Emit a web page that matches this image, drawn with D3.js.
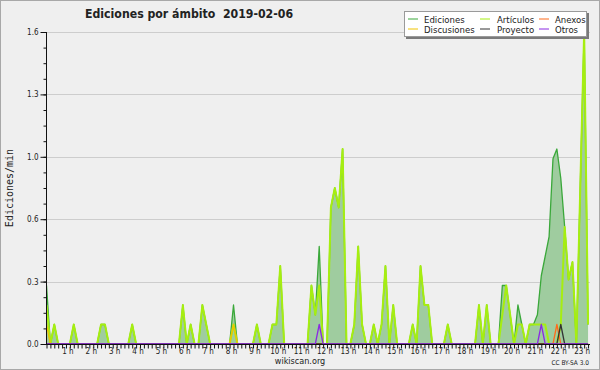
<!DOCTYPE html>
<html>
<head>
<meta charset="utf-8">
<script src="https://cdn.jsdelivr.net/npm/d3@7"></script>
<style>
  body { margin: 0; background: #fff; }
  svg { display: block; }
  text { font-family: 'DejaVu Sans Condensed', 'DejaVu Sans', sans-serif; font-stretch: condensed; fill: #222; }
</style>
</head>
<body>
<svg width="600" height="370"></svg>
<script>
// edits per minute, one value every 10 minutes from 00:00
const binMinutes = 10;
const ediciones = [
  0.3,0,0.1,0,0,0, 0,0.1,0,0,0,0,
  0,0,0.1,0.1,0,0, 0,0,0,0,0.1,0,
  0,0,0,0,0,0, 0,0,0,0,0,0.2,
  0,0.1,0,0,0.2,0.1, 0,0,0,0,0,0,
  0.2,0,0,0,0,0, 0.1,0,0,0,0.1,0.1,
  0.4,0,0,0,0,0, 0,0,0.3,0.15,0.5,0,
  0,0.7,0.8,0.7,1.0,0, 0,0.1,0.5,0.1,0,0,
  0.1,0,0.1,0.4,0,0.2, 0,0,0,0,0.1,0,
  0.4,0.2,0.2,0,0,0, 0,0.1,0,0,0,0,
  0,0,0,0.2,0,0.2, 0,0,0,0.3,0.3,0.15,
  0,0.2,0.1,0,0.1,0.1, 0.15,0.35,0.45,0.55,0.95,1.0,
  0.85,0.6,0.33,0.42,0,0.8, 1.6,0.1
];
const articulos = [
  0.2,0,0.1,0,0,0, 0,0.1,0,0,0,0,
  0,0,0.1,0.1,0,0, 0,0,0,0,0.1,0,
  0,0,0,0,0,0, 0,0,0,0,0,0.2,
  0,0.1,0,0,0.2,0.1, 0,0,0,0,0,0,
  0.1,0,0,0,0,0, 0.1,0,0,0,0.1,0.1,
  0.4,0,0,0,0,0, 0,0,0.3,0.15,0.3,0,
  0,0.7,0.8,0.7,1.0,0, 0,0.1,0.5,0.1,0,0,
  0.1,0,0.1,0.4,0,0.2, 0,0,0,0,0.1,0,
  0.4,0.2,0.2,0,0,0, 0,0.1,0,0,0,0,
  0,0,0,0.2,0,0.2, 0,0,0,0.15,0.3,0.15,
  0,0.1,0.1,0,0.1,0.1, 0.1,0.1,0.1,0,0,0,
  0.1,0.6,0.33,0.42,0,0.8, 1.6,0.1
];
const discusiones = [
  0.1,0,0,0,0,0, 0,0,0,0,0,0,
  0,0,0,0,0,0, 0,0,0,0,0,0,
  0,0,0,0,0,0, 0,0,0,0,0,0,
  0,0,0,0,0,0, 0,0,0,0,0,0,
  0.1,0,0,0,0,0, 0,0,0,0,0,0,
  0,0,0,0,0,0, 0,0,0,0,0,0,
  0,0,0,0,0,0, 0,0,0,0,0,0,
  0,0,0,0,0,0, 0,0,0,0,0,0,
  0,0,0,0,0,0, 0,0,0,0,0,0,
  0,0,0,0,0,0, 0,0,0,0,0,0,
  0,0,0,0,0,0, 0,0,0,0,0,0,
  0,0,0,0,0,0, 0,0
];
const anexos = [
  0,0,0,0,0,0, 0,0,0,0,0,0,
  0,0,0,0,0,0, 0,0,0,0,0,0,
  0,0,0,0,0,0, 0,0,0,0,0,0,
  0,0,0,0,0,0, 0,0,0,0,0,0,
  0,0,0,0,0,0, 0,0,0,0,0,0,
  0,0,0,0,0,0, 0,0,0,0,0,0,
  0,0,0,0,0,0, 0,0,0,0,0,0,
  0,0,0,0,0,0, 0,0,0,0,0,0,
  0,0,0,0,0,0, 0,0,0,0,0,0,
  0,0,0,0,0,0, 0,0,0,0,0,0,
  0,0,0,0,0,0, 0,0,0,0,0,0.1,
  0,0,0,0,0,0, 0,0
];
const proyecto = [
  0,0,0,0,0,0, 0,0,0,0,0,0,
  0,0,0,0,0,0, 0,0,0,0,0,0,
  0,0,0,0,0,0, 0,0,0,0,0,0,
  0,0,0,0,0,0, 0,0,0,0,0,0,
  0,0,0,0,0,0, 0,0,0,0,0,0,
  0,0,0,0,0,0, 0,0,0,0,0,0,
  0,0,0,0,0,0, 0,0,0,0,0,0,
  0,0,0,0,0,0, 0,0,0,0,0,0,
  0,0,0,0,0,0, 0,0,0,0,0,0,
  0,0,0,0,0,0, 0,0,0,0,0,0,
  0,0,0,0,0,0, 0,0,0,0,0,0,
  0.1,0,0,0,0,0, 0,0
];
const otros = [
  0,0,0,0,0,0, 0,0,0,0,0,0,
  0,0,0,0,0,0, 0,0,0,0,0,0,
  0,0,0,0,0,0, 0,0,0,0,0,0,
  0,0,0,0,0,0, 0,0,0,0,0,0,
  0,0,0,0,0,0, 0,0,0,0,0,0,
  0,0,0,0,0,0, 0,0,0,0,0.1,0,
  0,0,0,0,0,0, 0,0,0,0,0,0,
  0,0,0,0,0,0, 0,0,0,0,0,0,
  0,0,0,0,0,0, 0,0,0,0,0,0,
  0,0,0,0,0,0, 0,0,0,0,0,0,
  0,0,0,0,0,0, 0,0.1,0,0,0,0,
  0,0,0,0,0,0, 0,0
];
const yTicks = [0, 0.32, 0.64, 0.96, 1.28, 1.6];
const yTickLabels = ['0.0', '0.3', '0.6', '1.0', '1.3', '1.6'];
const hourLabels = ['1 h','2 h','3 h','4 h','5 h','6 h','7 h','8 h','9 h','10 h','11 h','12 h',
  '13 h','14 h','15 h','16 h','17 h','18 h','19 h','20 h','21 h','22 h','23 h'];
const legendItems = [
  { name: 'Ediciones', color: '#3aa83a', col: 0, row: 0 },
  { name: 'Discusiones', color: '#f0c400', col: 0, row: 1 },
  { name: 'Artículos', color: '#a6ee10', col: 1, row: 0 },
  { name: 'Proyecto', color: '#333333', col: 1, row: 1 },
  { name: 'Anexos', color: '#ff6a1a', col: 2, row: 0 },
  { name: 'Otros', color: '#8a2be2', col: 2, row: 1 }
];

const svg = d3.select('svg');
const width = +svg.attr('width');
const height = +svg.attr('height');
const plot = { left: 46, right: 590, top: 32, bottom: 344 };

svg.append('rect')
  .attr('x', 0.5).attr('y', 0.5)
  .attr('width', width - 1).attr('height', height - 1)
  .attr('fill', '#efefef')
  .attr('stroke', '#a8a8a8');

const nBins = ediciones.length;
const xScale = d3.scaleLinear()
  .domain([0, (nBins - 1) * binMinutes + 5])
  .range([plot.left + 0.5, plot.right]);
const yScale = d3.scaleLinear()
  .domain([0, 1.6])
  .range([plot.bottom, plot.top]);

svg.append('defs').append('clipPath').attr('id', 'clip')
  .append('rect')
  .attr('x', plot.left).attr('y', plot.top - 1)
  .attr('width', plot.right - plot.left).attr('height', plot.bottom - plot.top + 1);

// grid
svg.append('g').selectAll('line')
  .data(yTicks.slice(1))
  .enter().append('line')
  .attr('x1', plot.left).attr('x2', plot.right)
  .attr('y1', d => Math.round(yScale(d)) + 0.5)
  .attr('y2', d => Math.round(yScale(d)) + 0.5)
  .attr('stroke', '#cdcdcd');

const line = d3.line()
  .x((d, i) => xScale(i * binMinutes))
  .y(d => yScale(d));
const area = d3.area()
  .x((d, i) => xScale(i * binMinutes))
  .y0(yScale(0))
  .y1(d => yScale(d));

const chartG = svg.append('g').attr('clip-path', 'url(#clip)');
chartG.append('path')
  .datum(ediciones)
  .attr('d', area)
  .attr('fill', '#9fcc9f');

const series = [
  { values: ediciones, color: '#3aa83a', w: 1.3 },
  { values: articulos, color: '#a6ee10', w: 2 },
  { values: discusiones, color: '#f0c400', w: 1.3 },
  { values: anexos, color: '#ff6a1a', w: 1.3 },
  { values: proyecto, color: '#333333', w: 1.3 },
  { values: otros, color: '#8a2be2', w: 1.3 }
];
chartG.selectAll('path.serie')
  .data(series)
  .enter().append('path')
  .attr('class', 'serie')
  .attr('d', d => line(d.values))
  .attr('fill', 'none')
  .attr('stroke', d => d.color)
  .attr('stroke-width', d => d.w)
  .attr('stroke-linejoin', 'round');

// y axis
const yAxisG = svg.append('g').attr('transform', `translate(${plot.left + 0.5},0)`);
yAxisG.call(d3.axisLeft(yScale)
  .tickValues(d3.range(0, 1.6001, 0.08))
  .tickSize(3)
  .tickFormat(''));
yAxisG.call(g => g.select('.domain').remove());
const yMajor = svg.append('g').attr('transform', `translate(${plot.left + 0.5},0)`);
yMajor.call(d3.axisLeft(yScale)
  .tickValues(yTicks)
  .tickSize(6)
  .tickPadding(2)
  .tickFormat((d, i) => yTickLabels[i]));
yMajor.selectAll('text').attr('font-size', 8).attr('fill', '#444')
  .style('font-family', null);
yMajor.select('.domain').remove();
svg.selectAll('.tick line').attr('stroke', '#111');
svg.append('line')
  .attr('x1', plot.left + 0.5).attr('x2', plot.left + 0.5)
  .attr('y1', plot.top).attr('y2', plot.bottom + 0.5)
  .attr('stroke', '#111');

// x axis
const xAxisG = svg.append('g').attr('transform', `translate(0,${plot.bottom + 0.5})`);
xAxisG.call(d3.axisBottom(xScale)
  .tickValues(d3.range(0, xScale.domain()[1] + 1, binMinutes))
  .tickSize(4)
  .tickFormat(''));
xAxisG.select('.domain').remove();
xAxisG.selectAll('.tick line').attr('stroke', '#111');
svg.append('line')
  .attr('x1', plot.left).attr('x2', plot.right)
  .attr('y1', plot.bottom + 0.5).attr('y2', plot.bottom + 0.5)
  .attr('stroke', '#111');
svg.append('g').selectAll('text')
  .data(hourLabels)
  .enter().append('text')
  .attr('x', (d, i) => xScale((i + 1) * 60) - 2)
  .attr('y', 354)
  .attr('text-anchor', 'middle')
  .attr('font-size', 8)
  .attr('fill', '#333')
  .text(d => d);

// titles
svg.append('text')
  .attr('x', 85).attr('y', 18)
  .attr('font-size', 12.2)
  .attr('font-weight', 'bold')
  .attr('fill', '#111')
  .text('Ediciones por ámbito\u00a0\u00a02019-02-06');
svg.append('text')
  .attr('transform', 'translate(13,188) rotate(-90)')
  .attr('text-anchor', 'middle')
  .attr('font-size', 10)
  .attr('fill', '#222')
  .style('font-family', "'DejaVu Sans Mono', monospace")
  .style('font-stretch', 'normal')
  .text('Ediciones/min');
svg.append('text')
  .attr('x', 300).attr('y', 364)
  .attr('text-anchor', 'middle')
  .attr('font-size', 9)
  .attr('fill', '#333')
  .text('wikiscan.org');
svg.append('text')
  .attr('x', 589).attr('y', 365)
  .attr('text-anchor', 'end')
  .attr('font-size', 6.5)
  .attr('fill', '#444')
  .text('CC BY-SA 3.0');

// legend
const legend = svg.append('g');
legend.append('rect')
  .attr('x', 406).attr('y', 13)
  .attr('width', 183).attr('height', 26)
  .attr('fill', '#7a7a7a');
legend.append('rect')
  .attr('x', 404.5).attr('y', 11.5)
  .attr('width', 182).attr('height', 25)
  .attr('fill', '#fff')
  .attr('stroke', '#9a9a9a');
const colX = [408, 480, 539];
const textX = [424, 497, 555];
const rowY = [19, 29];
const items = legend.selectAll('g.item')
  .data(legendItems)
  .enter().append('g')
  .attr('class', 'item');
items.append('line')
  .attr('x1', d => colX[d.col]).attr('x2', d => colX[d.col] + 10)
  .attr('y1', d => rowY[d.row]).attr('y2', d => rowY[d.row])
  .attr('stroke', d => d.color)
  .attr('stroke-width', 1);
items.append('text')
  .attr('x', d => textX[d.col])
  .attr('y', d => rowY[d.row] + 3.5)
  .attr('font-size', 9.5)
  .attr('fill', '#222')
  .text(d => d.name);
</script>
</body>
</html>
